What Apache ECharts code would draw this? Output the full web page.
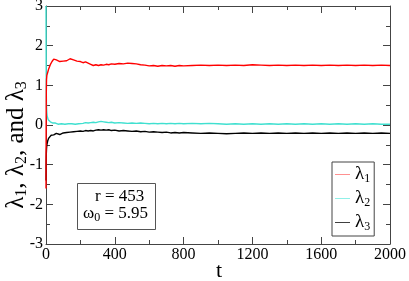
<!DOCTYPE html>
<html><head><meta charset="utf-8">
<script src="https://cdn.jsdelivr.net/npm/echarts@6/dist/echarts.min.js"></script>
<style>html,body{margin:0;padding:0;background:#fff}#c{width:409px;height:281px}</style>
</head><body><div id="c"></div>
<script>
const t = [0,1,2,3,5,7,10,13,16,20,25,30,35,40,45,50,55,60,65,70,80,90,100,110,120,130,140,150,160,170,180,190,200,215,230,245,260,275,290,305,320,335,350,365,380,400,425,450,475,500,525,550,575,600,625,650,675,700,725,750,775,800,850,900,950,1000,1050,1100,1150,1200,1250,1300,1350,1400,1450,1500,1550,1600,1650,1700,1750,1800,1850,1900,1950,2000];
const lambda1 = [-1.6,0.2,0.9,1.15,1.25,1.3,1.33,1.38,1.42,1.47,1.52,1.57,1.6,1.62,1.66,1.63,1.67,1.64,1.62,1.65,1.6,1.63,1.61,1.64,1.62,1.65,1.67,1.63,1.64,1.6,1.61,1.58,1.6,1.57,1.59,1.56,1.53,1.5,1.52,1.5,1.52,1.51,1.53,1.52,1.54,1.53,1.55,1.54,1.56,1.55,1.54,1.52,1.51,1.49,1.5,1.48,1.5,1.49,1.5,1.48,1.5,1.49,1.5,1.51,1.5,1.51,1.5,1.51,1.5,1.52,1.51,1.5,1.51,1.5,1.51,1.5,1.51,1.5,1.51,1.5,1.51,1.5,1.51,1.5,1.51,1.5];
const lambda2 = [3.0,1.5,0.7,0.45,0.3,0.22,0.17,0.13,0.11,0.09,0.08,0.06,0.07,0.05,0.06,0.04,0.05,0.03,0.04,0.02,0.04,0.03,0.05,0.02,0.04,0.03,0.05,0.03,0.04,0.02,0.04,0.03,0.05,0.04,0.06,0.05,0.06,0.07,0.06,0.08,0.09,0.08,0.07,0.06,0.07,0.05,0.06,0.05,0.04,0.05,0.04,0.05,0.04,0.03,0.04,0.03,0.04,0.03,0.04,0.03,0.04,0.03,0.04,0.03,0.04,0.03,0.02,0.03,0.02,0.03,0.02,0.03,0.02,0.03,0.02,0.03,0.02,0.03,0.02,0.03,0.02,0.03,0.02,0.03,0.02,0.02];
const lambda3 = [-1.4,-0.9,-0.7,-0.6,-0.5,-0.45,-0.4,-0.36,-0.33,-0.31,-0.28,-0.26,-0.27,-0.24,-0.25,-0.22,-0.24,-0.21,-0.23,-0.2,-0.24,-0.21,-0.2,-0.22,-0.19,-0.21,-0.18,-0.19,-0.17,-0.19,-0.16,-0.17,-0.15,-0.16,-0.14,-0.15,-0.14,-0.15,-0.13,-0.12,-0.13,-0.12,-0.13,-0.12,-0.14,-0.13,-0.15,-0.14,-0.15,-0.16,-0.15,-0.17,-0.16,-0.18,-0.17,-0.18,-0.19,-0.18,-0.2,-0.19,-0.2,-0.19,-0.2,-0.21,-0.2,-0.21,-0.22,-0.21,-0.2,-0.21,-0.2,-0.21,-0.2,-0.21,-0.2,-0.21,-0.2,-0.21,-0.2,-0.21,-0.2,-0.21,-0.2,-0.21,-0.2,-0.21];
const seriesNames = ['λ1','λ2','λ3'];
const seriesColors = ['#ff0000','#40e0d0','#000000'];
const legendColors = ['#ff9090','#90f0e8','#404040'];
const xTicks = {min:0, max:2000, interval:400};
const yTicks = {min:-3, max:3, interval:1};
const xName = 't';
const noteLines = ['r = 453','ω0 = 5.95'];

const FONT = 'Liberation Serif';
const chart = echarts.init(document.getElementById('c'), null, {renderer:'canvas'});
const lbl = (show) => ({show:show, color:'#000', fontFamily:FONT, fontSize:16, margin:3, formatter:(v)=>String(v)});
const axisCommon = (show) => ({
  axisLine:{show:true, onZero:false, lineStyle:{color:'#444', width:1}},
  axisTick:{show:true, inside:true, length:7, lineStyle:{color:'#444'}},
  minorTick:{show:true, splitNumber:2, length:4, lineStyle:{color:'#444'}},
  splitLine:{show:false},
  axisLabel:lbl(show)
});
const series = [lambda1, lambda2, lambda3].map((vals,i)=>({
  name: seriesNames[i], type:'line', xAxisIndex:0, yAxisIndex:0,
  data: t.map((x,j)=>[x, vals[j]]),
  showSymbol:false, symbol:'none', animation:false,
  lineStyle:{color:seriesColors[i], width:1.4}, itemStyle:{color:seriesColors[i]}, z: 3-i
}));
chart.setOption({
  animation:false,
  textStyle:{fontFamily:FONT},
  grid:{left:46, right:19, top:6, bottom:37, containLabel:false, outerBoundsMode:'none'},
  xAxis:[
    Object.assign({type:'value', position:'bottom', min:xTicks.min, max:xTicks.max, interval:xTicks.interval}, axisCommon(true)),
    Object.assign({type:'value', position:'top', min:xTicks.min, max:xTicks.max, interval:xTicks.interval}, axisCommon(false))
  ],
  yAxis:[
    Object.assign({type:'value', position:'left', min:yTicks.min, max:yTicks.max, interval:yTicks.interval}, axisCommon(true)),
    Object.assign({type:'value', position:'right', min:yTicks.min, max:yTicks.max, interval:yTicks.interval}, axisCommon(false))
  ],
  legend:{
    orient:'vertical', left:332, top:162, width:43,
    padding:[3,4,3,3], itemGap:4, borderColor:'#444', borderWidth:1,
    icon:'rect', itemWidth:15, itemHeight:1,
    data: seriesNames.map((n,i)=>({name:n, itemStyle:{color:legendColors[i]}})),
    formatter:(n)=>'{m|λ}{s|'+n.slice(1)+'}',
    textStyle:{fontFamily:FONT, fontSize:19, color:'#000', rich:{
      m:{fontFamily:FONT, fontSize:19, color:'#000', height:20},
      s:{fontFamily:FONT, fontSize:12, color:'#000', padding:[9,0,0,0]}}}
  },
  graphic:[
    {type:'text', x:16, y:145, rotation:Math.PI/2, z:11, style:{
      text:'{m|λ}{s|1}{m|, λ}{s|2}{m|, and λ}{s|3}', align:'center', verticalAlign:'middle', fill:'#000',
      fontFamily:FONT, fontSize:25,
      rich:{m:{fontFamily:FONT, fontSize:25, fill:'#000'}, s:{fontFamily:FONT, fontSize:16, fill:'#000', padding:[12,0,0,0]}}}},
    {type:'text', x:219, y:271, z:11, style:{text:xName, align:'center', verticalAlign:'middle', fontFamily:FONT, fontSize:22, fill:'#000'}},
    {type:'rect', left:77, top:183, shape:{width:78, height:46}, style:{fill:'#fff', stroke:'#555', lineWidth:1}, z:10},
    {type:'text', left:95, top:188, z:11, style:{text:noteLines[0], fontFamily:FONT, fontSize:17, fill:'#000'}},
    {type:'text', left:83, top:205, z:11, style:{text:'{m|ω}{s|0}{m|'+noteLines[1].slice(2)+'}', fontFamily:FONT, fontSize:17, fill:'#000',
      rich:{m:{fontFamily:FONT, fontSize:17}, s:{fontFamily:FONT, fontSize:12, padding:[8,0,0,0]}}}}
  ],
  series: series
});
</script></body></html>
